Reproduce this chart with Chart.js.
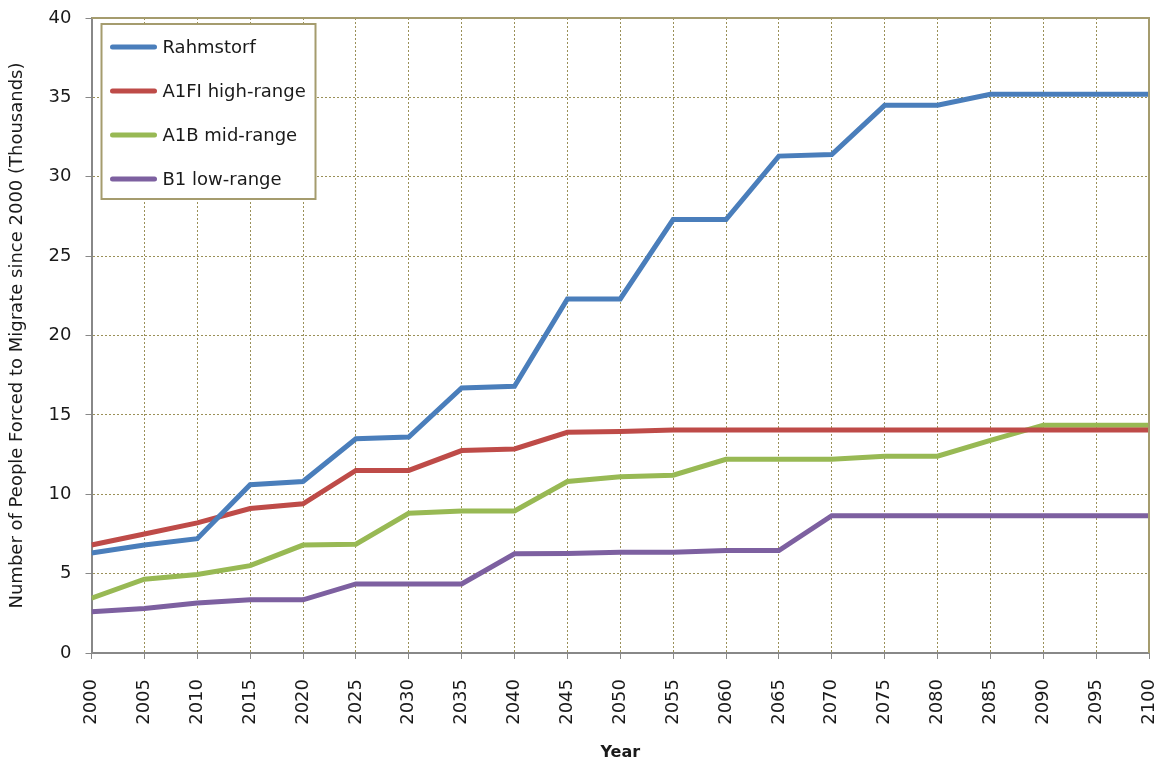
<!DOCTYPE html>
<html>
<head>
<meta charset="utf-8">
<script src="https://cdn.jsdelivr.net/npm/chart.js@4.4.1/dist/chart.umd.min.js"></script>
<style>
  html, body { margin: 0; padding: 0; background: #fff; }
  #wrap { width: 1160px; height: 762px; }
</style>
</head>
<body>
<div id="wrap"><canvas id="chart" width="1160" height="762"></canvas></div>
<script>
// Data
const years = [2000, 2005, 2010, 2015, 2020, 2025, 2030, 2035, 2040, 2045, 2050,
    2055, 2060, 2065, 2070, 2075, 2080, 2085, 2090, 2095, 2100];

const rahmstorf = [6.3, 6.8, 7.2, 10.6, 10.8, 13.5, 13.6, 16.7, 16.8, 22.3, 22.3,
    27.3, 27.3, 31.3, 31.4, 34.5, 34.5, 35.2, 35.2, 35.2, 35.2];
const a1fiHigh = [6.8, 7.5, 8.2, 9.1, 9.4, 11.5, 11.5, 12.75, 12.85, 13.9, 13.95,
    14.05, 14.05, 14.05, 14.05, 14.05, 14.05, 14.05, 14.05, 14.05, 14.05];
const a1bMid = [3.45, 4.65, 4.95, 5.5, 6.8, 6.85, 8.8, 8.95, 8.95, 10.8, 11.1,
    11.2, 12.2, 12.2, 12.2, 12.4, 12.4, 13.4, 14.35, 14.35, 14.35];
const b1Low = [2.6, 2.8, 3.15, 3.35, 3.35, 4.35, 4.35, 4.35, 6.25, 6.27, 6.35,
    6.35, 6.45, 6.45, 8.65, 8.65, 8.65, 8.65, 8.65, 8.65, 8.65];

const yTicks = [0, 5, 10, 15, 20, 25, 30, 35, 40];

const seriesNames = ["Rahmstorf", "A1FI high-range", "A1B mid-range", "B1 low-range"];
const seriesColors = ["#4a7ebb", "#be4b48", "#98b954", "#7d60a0"];

const FONT = "'DejaVu Sans', sans-serif";
const OLIVE = "#a59c6e";
const GRID = "#9a9058";
const TEXT = "#1a1a1a";

function makeSet(i, values) {
    return {
        label: seriesNames[i],
        data: years.map((y, k) => ({ x: y, y: values[k] })),
        borderColor: seriesColors[i],
        backgroundColor: seriesColors[i],
        borderWidth: 5,
        pointRadius: 0,
        tension: 0,
        borderJoinStyle: "miter",
        fill: false,
    };
}

// Legend box drawn inside the plot, plus the olive frame on top/right
const frameAndLegend = {
    id: "frameAndLegend",
    afterDatasetsDraw(chart) {
        const { ctx, chartArea: a } = chart;
        ctx.save();
        ctx.strokeStyle = OLIVE;
        ctx.lineWidth = 2;
        ctx.beginPath();
        ctx.moveTo(a.left, a.top);
        ctx.lineTo(a.right, a.top);
        ctx.lineTo(a.right, a.bottom);
        ctx.stroke();

        const bx = a.left + 10, by = a.top + 6, bw = 214, bh = 175;
        ctx.fillStyle = "#fff";
        ctx.fillRect(bx, by, bw, bh);
        ctx.strokeStyle = OLIVE;
        ctx.lineWidth = 2;
        ctx.strokeRect(bx, by, bw, bh);

        ctx.font = "18px " + FONT;
        ctx.textBaseline = "middle";
        chart.data.datasets.forEach((ds, i) => {
            const ly = by + 23 + i * 44;
            ctx.strokeStyle = ds.borderColor;
            ctx.lineWidth = 5;
            ctx.lineCap = "round";
            ctx.beginPath();
            ctx.moveTo(bx + 11, ly);
            ctx.lineTo(bx + 53, ly);
            ctx.stroke();
            ctx.fillStyle = TEXT;
            ctx.fillText(ds.label, bx + 61, ly + 1);
        });
        ctx.restore();
    },
};

new Chart(document.getElementById("chart"), {
    type: "line",
    data: {
        datasets: [
            makeSet(0, rahmstorf),
            makeSet(1, a1fiHigh),
            makeSet(2, a1bMid),
            makeSet(3, b1Low),
        ],
    },
    options: {
        responsive: false,
        animation: false,
        layout: { padding: { left: 7, right: 11, top: 18, bottom: 0 } },
        plugins: {
            legend: { display: false },
            tooltip: { enabled: false },
        },
        scales: {
            x: {
                type: "linear",
                min: years[0],
                max: years[years.length - 1],
                afterBuildTicks: (s) => { s.ticks = years.map((v) => ({ value: v })); },
                afterFit: (s) => { s.paddingLeft = 0; s.paddingRight = 0; s.height = 109; },
                ticks: {
                    minRotation: 90,
                    maxRotation: 90,
                    autoSkip: false,
                    color: TEXT,
                    font: { family: FONT, size: 18 },
                    padding: 20,
                    callback: (v) => String(v),
                },
                grid: {
                    color: GRID,
                    lineWidth: 1,
                    tickColor: "#888",
                    tickLength: 6,
                    tickBorderDash: [],
                },
                border: { color: "#888", width: 2, dash: [2, 2] },
                title: {
                    display: true,
                    text: "Year",
                    color: TEXT,
                    font: { family: FONT, size: 16, weight: "bold" },
                    padding: { top: 1, bottom: 0 },
                },
            },
            y: {
                min: 0,
                max: 40,
                afterBuildTicks: (s) => { s.ticks = yTicks.map((v) => ({ value: v })); },
                afterFit: (s) => { s.paddingTop = 0; s.paddingBottom = 0; },
                ticks: {
                    color: TEXT,
                    font: { family: FONT, size: 18 },
                    padding: 14,
                },
                grid: {
                    color: (c) => (c.tick && c.tick.value === 0 ? "rgba(0,0,0,0)" : GRID),
                    lineWidth: 1,
                    tickColor: "#888",
                    tickLength: 6,
                    tickBorderDash: [],
                },
                border: { color: "#888", width: 2, dash: [2, 2] },
                title: {
                    display: true,
                    text: "Number of People Forced to Migrate since 2000 (Thousands)",
                    color: TEXT,
                    font: { family: FONT, size: 18 },
                    padding: { top: 0, bottom: 6 },
                },
            },
        },
    },
    plugins: [frameAndLegend],
});
</script>
</body>
</html>
